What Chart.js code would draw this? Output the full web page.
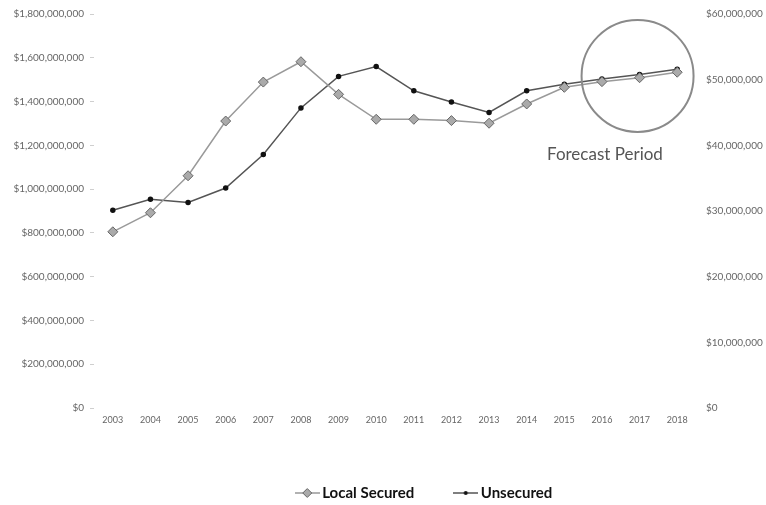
<!DOCTYPE html>
<html>
<head>
<meta charset="utf-8">
<script src="https://cdn.jsdelivr.net/npm/chart.js@4/dist/chart.umd.min.js"></script>
<style>
  html, body { margin: 0; padding: 0; background: #fff; }
  #wrap { width: 766px; height: 505px; position: relative; }
</style>
</head>
<body>
<div id="wrap"><canvas id="c" width="766" height="505"></canvas></div>
<script>
// Fiscal years on the category axis
const years = ['2003','2004','2005','2006','2007','2008','2009','2010',
               '2011','2012','2013','2014','2015','2016','2017','2018'];

// Local secured roll (left axis, dollars)
const localSecured = [805e6, 892e6, 1061e6, 1311e6, 1489e6, 1582e6, 1433e6, 1319e6,
                      1319e6, 1313e6, 1301e6, 1389e6, 1465e6, 1491e6, 1509e6, 1534e6];

// Unsecured roll (right axis, dollars)
const unsecured = [30.1e6, 31.8e6, 31.3e6, 33.5e6, 38.6e6, 45.7e6, 50.5e6, 52.0e6,
                   48.3e6, 46.6e6, 45.0e6, 48.3e6, 49.3e6, 50.1e6, 50.8e6, 51.6e6];

// Axis ranges
const leftMax = 1800e6, leftStep = 200e6;
const rightMax = 60e6, rightStep = 10e6;

// Forecast call-out
const forecastLabel = 'Forecast Period';
const forecastYear = '2017';
const forecastValue = 1517e6;
const forecastLabelYear = '2016';
const forecastLabelValue = 1156e6;

// Frame of the plot area and legend placement
const plotBottom = 408;
const legendCenterY = 493;
const legendShiftX = 43;

const money = v => '$' + Number(v).toLocaleString('en-US');

// Legend swatches: a short line with the series marker
function swatch(kind) {
  const c = document.createElement('canvas');
  c.width = 25; c.height = 12;
  const g = c.getContext('2d');
  g.strokeStyle = kind === 'diamond' ? '#999' : '#555';
  g.lineWidth = 1.5;
  g.beginPath(); g.moveTo(0, 6); g.lineTo(25, 6); g.stroke();
  if (kind === 'diamond') {
    g.fillStyle = '#aaa'; g.strokeStyle = '#666'; g.lineWidth = 1;
    g.beginPath(); g.moveTo(12.5, 1.5); g.lineTo(17, 6); g.lineTo(12.5, 10.5); g.lineTo(8, 6); g.closePath();
    g.fill(); g.stroke();
  } else {
    g.fillStyle = '#111';
    g.beginPath(); g.arc(12.5, 6, 2, 0, Math.PI * 2); g.fill();
  }
  return c;
}

const legendPlacement = {
  id: 'legendPlacement',
  afterLayout(chart) {
    const lg = chart.legend;
    if (!lg) return;
    const lo = lg.options.labels;
    const textCenter = lg.top + lo.padding + lo.font.size / 2;
    const dy = legendCenterY - textCenter;
    lg.top += dy; lg.bottom += dy;
    lg.left += legendShiftX; lg.right += legendShiftX;
  }
};

const forecastPlugin = {
  id: 'forecastCallout',
  afterDatasetsDraw(chart) {
    const { ctx, scales } = chart;
    const x = scales.x, y = scales.yL;
    const cx = x.getPixelForValue(years.indexOf(forecastYear)) - 2;
    const cy = y.getPixelForValue(forecastValue);
    ctx.save();
    ctx.strokeStyle = '#8a8a8a';
    ctx.lineWidth = 2;
    ctx.beginPath();
    ctx.arc(cx, cy, 56, 0, Math.PI * 2);
    ctx.stroke();
    ctx.fillStyle = '#555';
    ctx.font = '17px Lato, "Open Sans", sans-serif';
    ctx.textAlign = 'center';
    ctx.textBaseline = 'middle';
    ctx.fillText(forecastLabel,
      x.getPixelForValue(years.indexOf(forecastLabelYear)) + 3,
      y.getPixelForValue(forecastLabelValue));
    ctx.restore();
  }
};

new Chart(document.getElementById('c'), {
  type: 'line',
  data: {
    labels: years,
    datasets: [
      {
        label: 'Local Secured',
        data: localSecured,
        yAxisID: 'yL',
        borderColor: '#9a9a9a',
        borderWidth: 1.5,
        pointStyle: 'rectRot',
        pointRadius: 5,
        pointBackgroundColor: '#aaaaaa',
        pointBorderColor: '#666666',
        pointBorderWidth: 1,
        tension: 0
      },
      {
        label: 'Unsecured',
        data: unsecured,
        yAxisID: 'yR',
        borderColor: '#555555',
        borderWidth: 1.5,
        pointStyle: 'circle',
        pointRadius: 2,
        pointBackgroundColor: '#111111',
        pointBorderColor: '#111111',
        tension: 0
      }
    ]
  },
  options: {
    responsive: false,
    animation: false,
    layout: { padding: { top: 14, left: 0, right: 0, bottom: 0 } },
    plugins: {
      tooltip: { enabled: false },
      legend: {
        position: 'bottom',
        labels: {
          usePointStyle: true,
          pointStyleWidth: 15,
          padding: 44,
          color: '#111',
          font: { family: 'Lato, "Open Sans", sans-serif', size: 15, weight: 'bold' },
          generateLabels(chart) {
            return chart.data.datasets.map((ds, i) => ({
              text: ds.label,
              datasetIndex: i,
              pointStyle: swatch(i === 0 ? 'diamond' : 'dot'),
              fillStyle: 'transparent',
              strokeStyle: 'transparent',
              lineWidth: 0,
              fontColor: '#111',
              hidden: false
            }));
          }
        }
      }
    },
    scales: {
      x: {
        offset: true,
        grid: { display: false, drawTicks: false },
        border: { display: false },
        ticks: {
          color: '#666',
          font: { family: 'Lato, sans-serif', size: 9 },
          maxRotation: 0,
          autoSkip: false,
          padding: 7
        },
        afterFit(s) {
          const lgH = s.chart.legend ? s.chart.legend.height : 0;
          s.height = s.chart.height - lgH - plotBottom;
        }
      },
      yL: {
        position: 'left',
        min: 0, max: leftMax,
        grid: { display: true, drawOnChartArea: false, drawTicks: true, tickLength: 4, color: '#cfcfcf' },
        border: { display: false },
        ticks: {
          stepSize: leftStep,
          color: '#666',
          font: { family: 'Lato, sans-serif', size: 10 },
          padding: 6,
          callback: money
        },
        afterFit(s) { s.width = 94; }
      },
      yR: {
        position: 'right',
        min: 0, max: rightMax,
        grid: { display: false },
        border: { display: false },
        ticks: {
          stepSize: rightStep,
          color: '#666',
          font: { family: 'Lato, sans-serif', size: 10 },
          padding: 2,
          callback: money
        },
        afterFit(s) { s.width = 70; }
      }
    }
  },
  plugins: [forecastPlugin, legendPlacement]
});
</script>
</body>
</html>
